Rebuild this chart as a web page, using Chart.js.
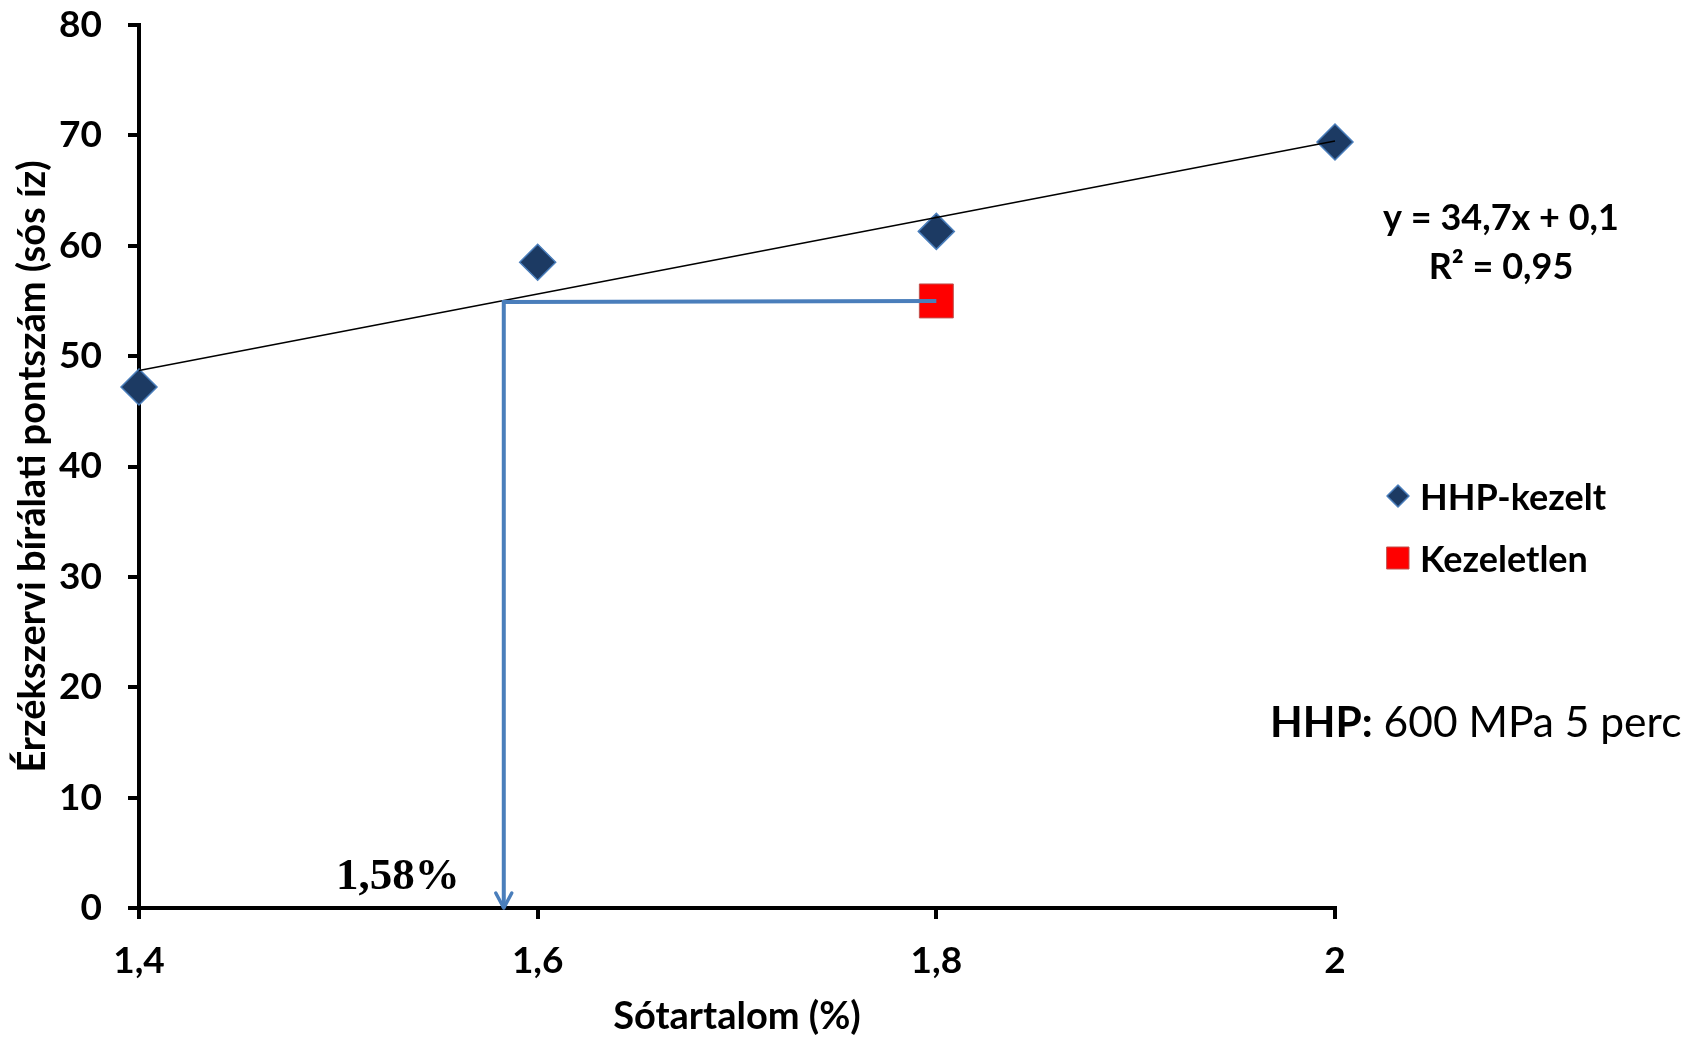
<!DOCTYPE html>
<html>
<head>
<meta charset="utf-8">
<script src="https://cdn.jsdelivr.net/npm/chart.js@4.4.1/dist/chart.umd.min.js"></script>
<style>
html,body{margin:0;padding:0;background:#fff}
</style>
</head>
<body>
<canvas id="chart" width="1702" height="1038"></canvas>
<script>
// values
const sotartalom=[1.4,1.6,1.8,2.0];
const hhpKezelt=[47.2,58.5,61.3,69.4];
const kezeletlenX=[1.8];
const kezeletlenY=[55.0];
const trendX=[1.4,2.0];
const trendY=[48.7,69.5];
const guideX=[1.8,1.583,1.583];
const guideY=[55.0,54.9,0];
const xTicks=[1.4,1.6,1.8,2.0];
const xTickLabels=['1,4','1,6','1,8','2'];
const yTicks=[0,10,20,30,40,50,60,70,80];

const F='Lato';
const NAVY='#1c3a63';
const BLUE='#4a7ebb';

const pts=(xs,ys)=>xs.map((v,i)=>({x:v,y:ys[i]}));

const extras={
 id:'extras',
 afterDatasetsDraw(chart){
  const {ctx,scales:{x,y}}=chart;
  ctx.save();
  // arrow head at end of guide line
  const n=guideX.length-1;
  const ax=x.getPixelForValue(guideX[n]), ay=y.getPixelForValue(guideY[n]);
  ctx.strokeStyle=BLUE;ctx.lineWidth=3.5;ctx.lineCap='round';ctx.lineJoin='round';
  ctx.beginPath();ctx.moveTo(ax-8,ay-15);ctx.lineTo(ax,ay);ctx.lineTo(ax+8,ay-15);ctx.stroke();

  ctx.fillStyle='#000';
  // 1,58% label
  ctx.font='bold 45px "Liberation Serif"';
  ctx.textAlign='left';ctx.textBaseline='alphabetic';
  ctx.fillText('1,58%',336,889);

  // equation
  ctx.font='bold 36px '+F;
  ctx.textAlign='center';ctx.textBaseline='middle';
  ctx.fillText('y = 34,7x + 0,1',1501,218);
  ctx.fillText('R² = 0,95',1501,267);

  // legend
  ctx.textAlign='left';
  ctx.fillStyle=NAVY;ctx.strokeStyle=BLUE;ctx.lineWidth=1.5;
  ctx.beginPath();ctx.moveTo(1398,485);ctx.lineTo(1409,496);ctx.lineTo(1398,507);ctx.lineTo(1387,496);ctx.closePath();ctx.fill();ctx.stroke();
  ctx.fillStyle='#ff0000';ctx.strokeStyle='#c0504d';ctx.lineWidth=1;
  ctx.fillRect(1387,547,22,22);ctx.strokeRect(1387,547,22,22);
  ctx.fillStyle='#000';
  ctx.fillText('HHP-kezelt',1420,498);
  ctx.fillText('Kezeletlen',1420,560);

  // HHP note
  ctx.font='bold 42.5px '+F;
  ctx.fillText('HHP:',1270,723);
  const w=ctx.measureText('HHP:').width;
  ctx.font='42.5px '+F;
  ctx.fillText(' 600 MPa 5 perc',1270+w,723);
  ctx.restore();
 }
};

new Chart(document.getElementById('chart'),{
 type:'scatter',
 data:{
  datasets:[
   {label:'guide',data:pts(guideX,guideY),showLine:true,borderColor:BLUE,borderWidth:4,pointRadius:0,clip:false},
   {label:'trend',data:pts(trendX,trendY),showLine:true,borderColor:'#000',borderWidth:1.5,pointRadius:0,clip:false},
   {label:'HHP-kezelt',data:pts(sotartalom,hhpKezelt),pointStyle:'rectRot',pointRadius:18,
    backgroundColor:NAVY,borderColor:BLUE,borderWidth:1.5,clip:false},
   {label:'Kezeletlen',data:pts(kezeletlenX,kezeletlenY),pointStyle:'rect',pointRadius:24,
    backgroundColor:'#ff0000',borderColor:'#c0504d',borderWidth:1,clip:false}
  ]
 },
 options:{
  responsive:false,
  animation:false,
  layout:{padding:{top:24,right:367,bottom:0,left:0}},
  plugins:{legend:{display:false},tooltip:{enabled:false}},
  scales:{
   x:{
    type:'linear',min:1.4,max:2,
    afterBuildTicks(s){s.ticks=xTicks.map(v=>({value:v}));},
    ticks:{callback:(v,i)=>xTickLabels[i],color:'#000',font:{family:F,size:37,weight:'bold'},padding:20,maxRotation:0},
    grid:{drawOnChartArea:false,color:'#000',lineWidth:4,tickLength:11},
    border:{color:'#000',width:4},
    title:{display:true,text:'Sótartalom (%)',color:'#000',font:{family:F,size:38,weight:'bold'},padding:{top:0,bottom:-2}},
    afterFit(s){s.height=130;s.paddingLeft=0;s.paddingRight=0;}
   },
   y:{
    min:0,max:80,
    afterBuildTicks(s){s.ticks=yTicks.map(v=>({value:v}));},
    ticks:{color:'#000',font:{family:F,size:37,weight:'bold'},padding:26},
    grid:{drawOnChartArea:false,color:'#000',lineWidth:4,tickLength:11},
    border:{color:'#000',width:4},
    title:{display:true,text:'Érzékszervi bírálati pontszám (sós íz)',color:'#000',font:{family:F,size:38,weight:'bold'},padding:{top:10,bottom:0}},
    afterFit(s){s.width=139;s.paddingTop=0;s.paddingBottom=0;}
   }
  }
 },
 plugins:[extras]
});
</script>
</body>
</html>
